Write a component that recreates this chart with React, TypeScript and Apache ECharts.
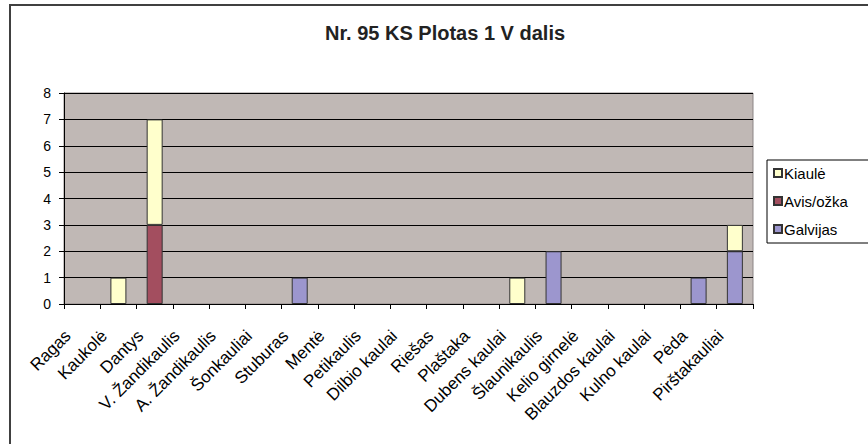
import React, { useEffect, useRef } from "react";
import * as echarts from "echarts";

const title = "Nr. 95 KS Plotas 1 V dalis";
const categories = [
  "Ragas", "Kaukolė", "Dantys", "V. Žandikaulis", "A. Žandikaulis", "Šonkauliai",
  "Stuburas", "Mentė", "Petikaulis", "Dilbio kaulai", "Riešas", "Plaštaka",
  "Dubens kaulai", "Šlaunikaulis", "Kelio girnelė", "Blauzdos kaulai",
  "Kulno kaulai", "Pėda", "Pirštakauliai",
];
const galvijas = [null, null, null, null, null, null, 1, null, null, null, null, null, null, 2, null, null, null, 1, 2];
const avisOzka = [null, null, 3, null, null, null, null, null, null, null, null, null, null, null, null, null, null, null, null];
const kiaule = [null, 1, 4, null, null, null, null, null, null, null, null, null, 1, null, null, null, null, null, 1];
const yTicks = { min: 0, max: 8, interval: 1 };

const FONT = "Liberation Sans, Arial, sans-serif";

export default function App() {
  const ref = useRef<HTMLDivElement>(null);
  useEffect(() => {
    document.body.style.margin = "0";
    const chart = echarts.init(ref.current!, null, { renderer: "svg" });
    const mk = (name: string, data: (number | null)[], color: string) => ({
      name,
      type: "bar",
      stack: "total",
      data: data.map((v) => (v === null ? "-" : v)),
      barWidth: 16,
      itemStyle: { color, borderColor: "#333333", borderWidth: 1 },
    });
    chart.setOption({
      animation: false,
      textStyle: { fontFamily: FONT },
      graphic: [
        {
          type: "rect",
          shape: { x: 10, y: 5, width: 900, height: 500 },
          style: { fill: "none", stroke: "#404040", lineWidth: 2 },
          z: 100,
        },
        {
          type: "text",
          x: 445,
          y: 33,
          style: {
            text: title,
            font: `bold 20px ${FONT}`,
            fill: "#222222",
            textAlign: "center",
            textVerticalAlign: "middle",
          },
        },
      ],
      legend: {
        orient: "vertical",
        left: 767,
        top: 160,
        data: ["Kiaulė", "Avis/ožka", "Galvijas"],
        itemWidth: 8,
        itemHeight: 8,
        itemGap: 12,
        padding: [5, 40, 6, 6],
        borderColor: "#000000",
        borderWidth: 1,
        backgroundColor: "#ffffff",
        textStyle: {
          fontSize: 15,
          lineHeight: 16,
          color: "#000000",
          fontFamily: FONT,
          padding: [0, 0, 0, -3],
        },
        icon: "rect",
      },
      grid: {
        left: 64,
        right: 115,
        top: 93,
        bottom: 140,
        show: true,
        backgroundColor: "#C0B8B5",
        borderColor: "#8c8585",
        borderWidth: 1,
      },
      xAxis: {
        type: "category",
        data: categories,
        axisLine: { lineStyle: { color: "#000000", width: 1 } },
        axisTick: { show: true, length: 5, lineStyle: { color: "#000000" } },
        axisLabel: {
          interval: 0,
          rotate: 45,
          fontSize: 17,
          color: "#000000",
          fontFamily: FONT,
          margin: 15,
          padding: [0, 20, 0, 0],
        },
      },
      yAxis: {
        type: "value",
        min: yTicks.min,
        max: yTicks.max,
        interval: yTicks.interval,
        axisLine: { show: true, lineStyle: { color: "#000000", width: 1 } },
        axisTick: { show: true, length: 5, lineStyle: { color: "#000000" } },
        axisLabel: { fontSize: 14, color: "#000000", fontFamily: FONT, margin: 13 },
        splitLine: { show: true, lineStyle: { color: "#000000", width: 1 } },
      },
      series: [
        mk("Galvijas", galvijas, "#9C96CE"),
        mk("Avis/ožka", avisOzka, "#A34E5F"),
        mk("Kiaulė", kiaule, "#FFFFCC"),
      ],
    });
    return () => chart.dispose();
  }, []);
  return <div ref={ref} style={{ width: 868, height: 444 }} />;
}
